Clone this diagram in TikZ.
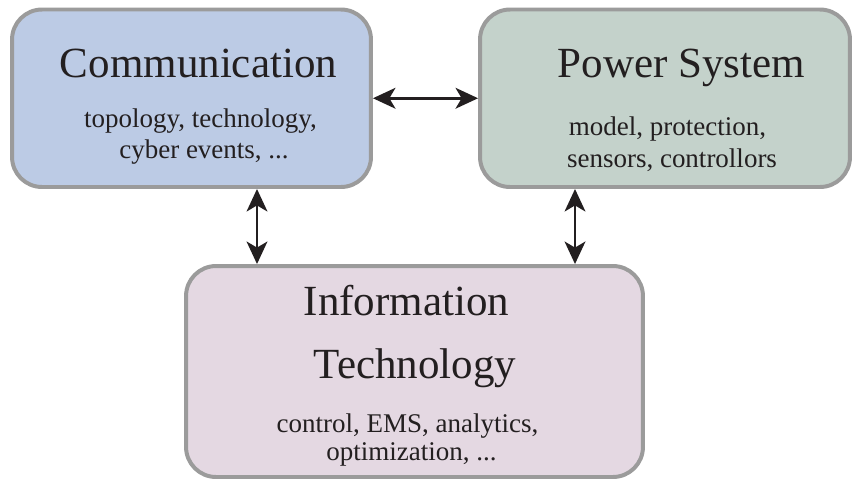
\documentclass[tikz,border=0pt]{standalone}
\usepackage{fontspec}
\newfontfamily\diagfont{Liberation Serif}
\usetikzlibrary{arrows.meta}
\definecolor{commfill}{HTML}{BCCBE5}
\definecolor{powerfill}{HTML}{C4D2CB}
\definecolor{infofill}{HTML}{E4D8E2}
\definecolor{boxline}{HTML}{9B9B9B}
\definecolor{ink}{HTML}{231F20}
\begin{document}
\begin{tikzpicture}[x=0.020335cm,y=-0.020335cm,
    area/.style={draw=boxline,line width=2.3pt,rounded corners=0.61cm,inner sep=0pt},
    title/.style={anchor=base,inner sep=0pt,text=ink,font=\diagfont\Huge},
    detail/.style={anchor=base,inner sep=0pt,text=ink,font=\diagfont\Large,scale=1.085,transform shape},
    link/.style={{Stealth[length=13pt,width=12pt,inset=3.5pt]}-{Stealth[length=13pt,width=12pt,inset=3.5pt]},line width=1.6pt,draw=ink}]
                \useasboundingbox[fill=white] (0,0) rectangle (853,480);

                \node[area,fill=commfill,minimum width=7.30cm,minimum height=3.61cm] (comm) at (191.5,98.25) {};
                \node[title] (commtitle) at (198.5,77) {Communication};
                \node[detail] (commline1) at (200.5,127) {topology, technology,};
                \node[detail] (commline2) at (204,158) {cyber events, ...};

                \node[area,fill=powerfill,minimum width=7.524cm,minimum height=3.61cm] (power) at (665,98.25) {};
                \node[title] (powertitle) at (681.5,77) {Power System};
                \node[detail] (powerline1) at (667.5,135) {model, protection,};
                \node[detail] (powerline2) at (672,167.5) {sensors, controllors};

                \node[area,fill=infofill,minimum width=9.293cm,minimum height=4.291cm] (info) at (414.5,371.5) {};
                \node[title] (infotitle1) at (406.5,315) {Information};
                \node[title] (infotitle2) at (415,378) {Technology};
                \node[detail] (infoline1) at (407.5,432) {control, EMS, analytics,};
                \node[detail] (infoline2) at (411.5,460) {optimization, ...};

                \draw[link] (comm.east) -- (power.west);
                \draw[link] (comm.south -| 257,0) -- (info.north -| 257,0);
                \draw[link] (power.south -| 575,0) -- (info.north -| 575,0);
\end{tikzpicture}
\end{document}
